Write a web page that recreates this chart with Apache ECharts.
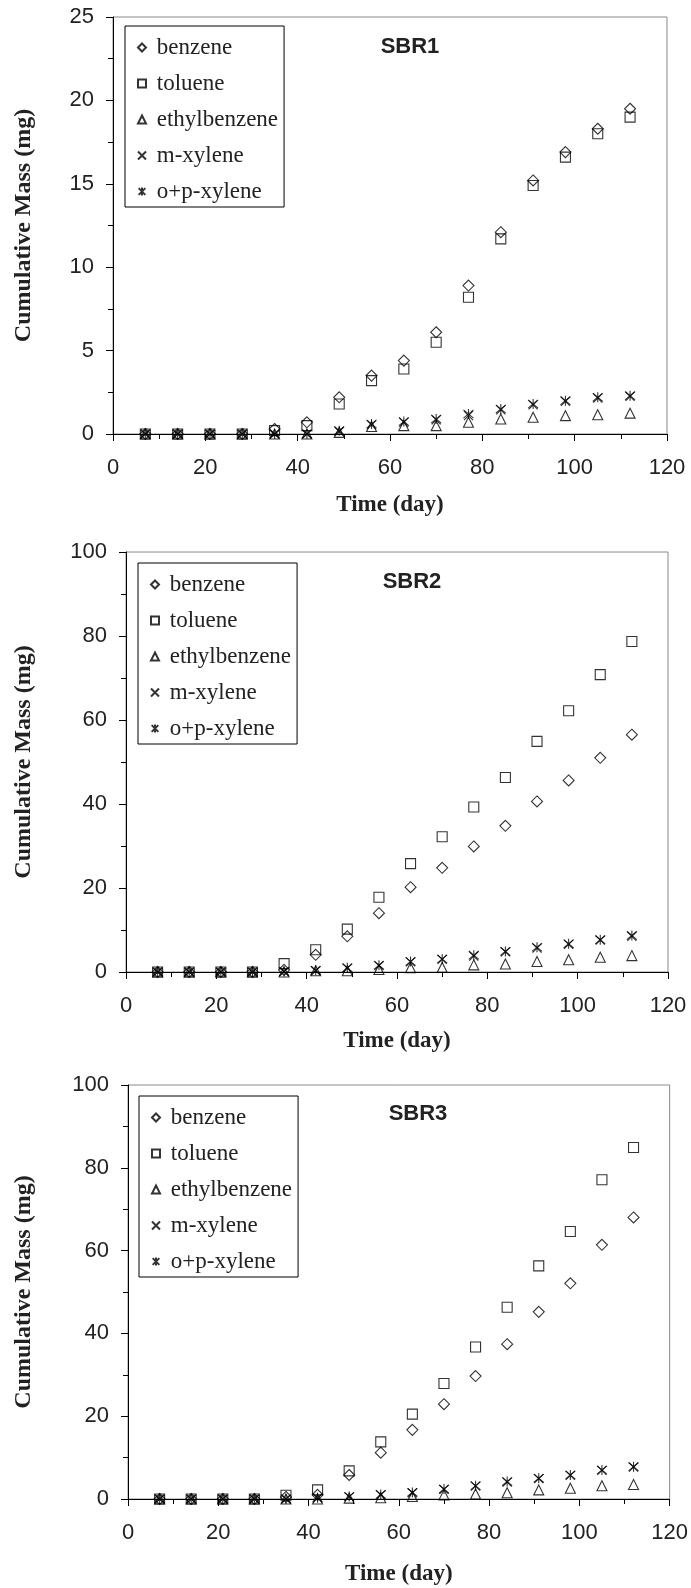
<!DOCTYPE html>
<html>
<head>
<meta charset="utf-8">
<script src="https://cdn.jsdelivr.net/npm/echarts@6/dist/echarts.min.js"></script>
<style>
html,body{margin:0;padding:0;background:#fff;}
#chart{width:691px;height:1588px;}
</style>
</head>
<body>
<div id="chart"></div>
<script>
// ---- data ----
const days = [7,14,21,28,35,42,49,56,63,70,77,84,91,98,105,112];
const seriesNames = ['benzene','toluene','ethylbenzene','m-xylene','o+p-xylene'];
const panelTitles = ['SBR1','SBR2','SBR3'];
const xTicks = [0,20,40,60,80,100,120];
const yMax = [25,100,100];
const yInterval = [5,20,20];

// SBR1
const benzene1 = [0,0,0,0,0.3,0.7,2.2,3.5,4.4,6.1,8.9,12.1,15.2,16.9,18.3,19.5];
const toluene1 = [0,0,0,0,0.2,0.5,1.8,3.2,3.9,5.5,8.2,11.7,14.9,16.6,18.0,19.0];
const ethyl1   = [0,0,0,0,0,0,0.1,0.45,0.5,0.5,0.7,0.9,1.0,1.1,1.15,1.25];
const mxyl1    = [0,0,0,0,0,0,0.15,0.55,0.7,0.85,1.1,1.45,1.75,1.95,2.15,2.25];
const opxyl1   = [0,0,0,0,0,0,0.2,0.6,0.75,0.9,1.2,1.5,1.8,2.0,2.2,2.3];

// SBR2
const benzene2 = [0,0,0,0,0.5,4.1,8.5,14.0,20.2,24.8,29.9,34.8,40.6,45.6,51.0,56.5];
const toluene2 = [0,0,0,0,2.0,5.3,10.2,17.8,25.8,32.2,39.3,46.3,54.9,62.2,70.8,78.7];
const ethyl2   = [0,0,0,0,0,0.3,0.3,0.6,1.0,1.1,1.7,1.9,2.5,2.9,3.5,3.9];
const mxyl2    = [0,0,0,0,0.1,0.3,0.9,1.5,2.4,3.0,3.8,4.8,5.7,6.6,7.6,8.5];
const opxyl2   = [0,0,0,0,0.1,0.4,1.0,1.6,2.5,3.1,4.0,4.9,5.9,6.7,7.7,8.7];

// SBR3
const benzene3 = [0,0,0,0,0.5,1.0,5.8,11.2,16.7,22.9,29.7,37.4,45.2,52.1,61.4,68.0];
const toluene3 = [0,0,0,0,0.9,2.2,6.8,13.8,20.5,27.9,36.7,46.3,56.3,64.6,77.1,84.9];
const ethyl3   = [0,0,0,0,0,0,0.2,0.3,0.6,1.0,1.2,1.5,2.2,2.6,3.2,3.5];
const mxyl3    = [0,0,0,0,0,0.2,0.5,1.0,1.5,2.3,3.1,4.1,4.9,5.7,6.9,7.7];
const opxyl3   = [0,0,0,0,0,0.3,0.6,1.1,1.6,2.4,3.2,4.2,5.0,5.8,7.0,7.8];

const panels = [
  [benzene1,toluene1,ethyl1,mxyl1,opxyl1],
  [benzene2,toluene2,ethyl2,mxyl2,opxyl2],
  [benzene3,toluene3,ethyl3,mxyl3,opxyl3]
];

// ---- layout / style ----
const grids = [
  {left:113, top:17,   width:554, height:417},
  {left:126, top:552,  width:542, height:420},
  {left:128, top:1085, width:542, height:414}
];
const xNameGap = [60,58,64];
const yNameGap = [77,90,92];
const xLabelMargin = [23,23,23];
const legendPos = [
  {left:125, top:26},
  {left:138, top:563},
  {left:139, top:1096}
];
const titlePos = [[410,47],[412,582],[418,1114]];

const SANS = 'Liberation Sans, Arial, Helvetica, sans-serif';
const SERIF = 'Liberation Serif, Times New Roman, serif';
const symbols = [
  {symbol:'diamond', size:11},
  {symbol:'rect', size:10},
  {symbol:'triangle', size:10},
  {symbol:'path://M0,0L10,10M10,0L0,10', size:9},
  {symbol:'path://M0,0L10,10M10,0L0,10M5,-1L5,11', size:10}
];

const option = {
  animation:false,
  backgroundColor:'#fff',
  grid: grids.map(g => Object.assign({show:true, borderColor:'#8a8a8a', borderWidth:1, backgroundColor:'transparent'}, g)),
  xAxis: grids.map((g,i) => ({
    gridIndex:i, type:'value', min:xTicks[0], max:xTicks[xTicks.length-1], interval:20,
    axisLine:{show:true, onZero:false, lineStyle:{color:'#000', width:1}},
    axisTick:{show:true, inside:false, length:7, lineStyle:{color:'#000'}},
    minorTick:{show:true, splitNumber:2, length:5, lineStyle:{color:'#000'}},
    splitLine:{show:false},
    axisLabel:{fontFamily:SANS, fontSize:22, color:'#222', margin:xLabelMargin[i]},
    name:'Time (day)', nameLocation:'middle', nameGap:xNameGap[i],
    nameTextStyle:{fontFamily:SERIF, fontWeight:'bold', fontSize:23, color:'#222'}
  })),
  yAxis: grids.map((g,i) => ({
    gridIndex:i, type:'value', min:0, max:yMax[i], interval:yInterval[i],
    axisLine:{show:true, onZero:false, lineStyle:{color:'#000', width:1}},
    axisTick:{show:true, inside:false, length:7, lineStyle:{color:'#000'}},
    minorTick:{show:true, splitNumber:2, length:5, lineStyle:{color:'#000'}},
    splitLine:{show:false},
    axisLabel:{fontFamily:SANS, fontSize:22, color:'#222', margin:19},
    name:'Cumulative Mass (mg)', nameLocation:'middle', nameGap:yNameGap[i],
    nameTextStyle:{fontFamily:SERIF, fontWeight:'bold', fontSize:24, color:'#222'}
  })),
  legend: legendPos.map((p,i) => ({
    orient:'vertical', left:p.left, top:p.top,
    padding:[10,6,4,12], itemGap:13, itemWidth:8, itemHeight:8,
    borderColor:'#000', borderWidth:1, backgroundColor:'#fff',
    selectedMode:false,
    formatter: name => ' ' + name,
    textStyle:{fontFamily:SERIF, fontSize:23, color:'#222'},
    data:seriesNames
  })),
  graphic: titlePos.map((p,i) => ({
    type:'text', x:p[0], y:p[1], z:100,
    style:{text:panelTitles[i], fontFamily:SANS, fontWeight:'bold', fontSize:22, fill:'#222',
      textAlign:'center', textVerticalAlign:'middle'}
  })),
  series: []
};

panels.forEach((vals, pi) => {
  vals.forEach((arr, si) => {
    option.series.push({
      type:'scatter', name:seriesNames[si],
      xAxisIndex:pi, yAxisIndex:pi,
      symbol:symbols[si].symbol, symbolSize:symbols[si].size,
      data: days.map((d,k) => [d, arr[k]]),
      itemStyle:{color:'rgba(255,255,255,0)', borderColor:'#000', borderWidth:1.1},
      emphasis:{disabled:true},
      clip:false
    });
  });
});

const chart = echarts.init(document.getElementById('chart'), null, {renderer:'canvas'});
chart.setOption(option);
</script>
</body>
</html>
